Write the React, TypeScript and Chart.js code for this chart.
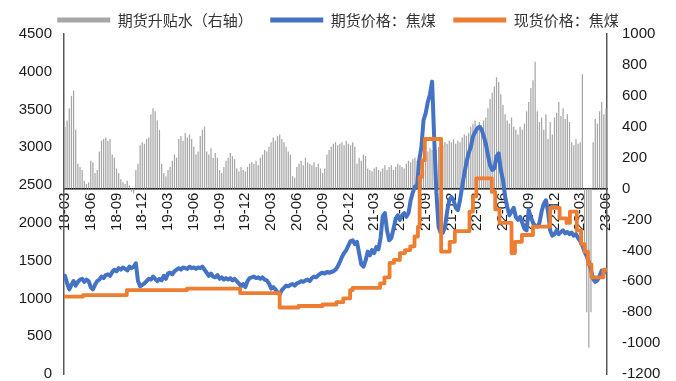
import React, { useEffect, useRef } from 'react';
import { Chart, registerables } from 'chart.js';

Chart.register(...registerables);

// Quarter labels on the x axis (one every 3 months, starting 2018-03)
const tickLabels = [
  '18-03', '18-06', '18-09', '18-12',
  '19-03', '19-06', '19-09', '19-12',
  '20-03', '20-06', '20-09', '20-12',
  '21-03', '21-06', '21-09', '21-12',
  '22-03', '22-06', '22-09', '22-12',
  '23-03', '23-06',
];

// Weekly samples (4 per month) from 2018-03: futures price, coking coal (left axis)
const futuresPrice = [
  1300, 1200, 1120, 1180, 1230, 1170, 1220, 1250, 1260, 1220, 1250, 1230, // 18-03..18-05
  1150, 1120, 1180, 1230, 1250, 1290, 1270, 1310, 1320, 1300, 1350, 1380, // 18-06..18-08
  1360, 1400, 1380, 1410, 1390, 1370, 1420, 1400, 1420, 1465, 1230, 1160, // 18-09..18-11
  1180, 1200, 1230, 1260, 1250, 1290, 1260, 1230, 1260, 1240, 1300, 1260, // 18-12..19-02
  1330, 1340, 1320, 1360, 1380, 1400, 1380, 1410, 1400, 1390, 1420, 1400, // 19-03..19-05
  1410, 1390, 1410, 1400, 1420, 1380, 1340, 1300, 1330, 1290, 1280, 1310, // 19-06..19-08
  1260, 1280, 1250, 1270, 1250, 1270, 1240, 1260, 1230, 1200, 1160, 1190, // 19-09..19-11
  1150, 1230, 1270, 1280, 1290, 1270, 1280, 1260, 1280, 1250, 1240, 1200, // 19-12..20-02
  1130, 1150, 1120, 1080, 1050, 1110, 1140, 1170, 1160, 1180, 1190, 1170, // 20-03..20-05
  1200, 1210, 1230, 1220, 1240, 1250, 1230, 1270, 1290, 1280, 1310, 1330, // 20-06..20-08
  1340, 1330, 1350, 1340, 1350, 1360, 1380, 1420, 1480, 1550, 1600, 1640, // 20-09..20-11
  1700, 1760, 1770, 1720, 1750, 1600, 1450, 1420, 1500, 1620, 1570, 1640, // 20-12..21-02
  1600, 1680, 1650, 1800, 2090, 2130, 1900, 1770, 1800, 1920, 2050, 2100, // 21-03..21-05
  2040, 2100, 2130, 2080, 2130, 2300, 2400, 2480, 2480, 2830, 3000, 3360, // 21-06..21-08
  3450, 3600, 3700, 3870, 3100, 2400, 1950, 1870, 1870, 1950, 2150, 2300, // 21-09..21-11
  2340, 2300, 2200, 2170, 2300, 2480, 2650, 2800, 2920, 3000, 3140, 3200, // 21-12..22-02
  3250, 3270, 3240, 3150, 3050, 2900, 2760, 2700, 2720, 2880, 2920, 2700, // 22-03..22-05
  2570, 2350, 2210, 2100, 2150, 2200, 2080, 2040, 2080, 2000, 1920, 1900, // 22-06..22-08
  2170, 2080, 2000, 1960, 1950, 2000, 2150, 2250, 2300, 2150, 1900, 1830, // 22-09..22-11
  1850, 1900, 1850, 1880, 1900, 1860, 1880, 1850, 1870, 1830, 1850, 1800, // 22-12..23-02
  1760, 1700, 1620, 1560, 1480, 1380, 1260, 1220, 1240, 1300, 1370, 1340, // 23-03..23-05
  1360, // 23-06
];

// Weekly samples: futures basis (right axis)
const basisValues = [
  400, 440, 520, 600, 634, 380, 160, 140, 120, 50, 30, 40, // 18-03..18-05
  180, 170, 100, 120, 240, 310, 320, 330, 310, 320, 220, 200, // 18-06..18-08
  130, 100, 60, 40, 30, 50, 20, -20, -30, 120, 160, 280, // 18-09..18-11
  300, 290, 320, 330, 480, 520, 500, 440, 380, 160, 100, 80, // 18-12..19-02
  120, 140, 180, 220, 200, 320, 340, 310, 360, 330, 350, 320, // 19-03..19-05
  270, 220, 240, 340, 380, 400, 240, 220, 260, 200, 230, 200, // 19-06..19-08
  120, 100, 140, 180, 200, 230, 210, 190, 130, 110, 140, 120, // 19-09..19-11
  110, 140, 160, 170, 160, 180, 150, 200, 220, 250, 240, 270, // 19-12..20-02
  300, 330, 310, 340, 350, 320, 300, 270, 240, 220, 80, 70, // 20-03..20-05
  140, 160, 180, 150, 200, 170, 160, 150, 170, 140, 160, 130, // 20-06..20-08
  100, 130, 220, 250, 270, 290, 300, 280, 290, 300, 280, 310, // 20-09..20-11
  290, 280, 300, 270, 160, 200, 180, 220, 210, 130, 120, 110, // 20-12..21-02
  130, 140, 120, 110, 130, 150, 120, 140, 150, 120, 140, 160, // 21-03..21-05
  150, 140, 130, 160, 180, 170, 190, 200, 180, 80, 70, 120, // 21-06..21-08
  200, 240, 260, 250, 230, 250, 270, 260, 280, 300, 290, 310, // 21-09..21-11
  300, 320, 290, 310, 300, 330, 350, 340, 360, 400, 420, 440, // 21-12..22-02
  400, 430, 410, 440, 460, 520, 580, 620, 660, 720, 690, 610, // 22-03..22-05
  540, 480, 440, 420, 460, 400, 380, 350, 400, 380, 420, 500, // 22-06..22-08
  560, 650, 700, 820, 500, 430, 460, 380, 480, 320, 430, 350, // 22-09..22-11
  460, 490, 560, 470, 520, 450, 480, 430, 300, 280, 320, 290, // 22-12..23-02
  300, 740, -400, -800, -1030, -800, 300, 450, 420, 500, 560, 480, // 23-03..23-05
  520, // 23-06
];

// Spot price, coking coal: month offset (from 2018-03) at which each price level starts
const spotMonths = [
  0, 2.1, 7.2, 14.2, 20.4, 25.0, 27.2, 30.0, 31.6, 32.4, 33.2, 33.5,
  36.7, 37.2, 37.8, 38.3, 39.0, 39.6, 40.2, 40.7, 41.1, 41.3, 41.6, 41.9,
  43.8, 44.8, 45.4, 47.1, 47.5, 47.9, 49.7, 50.1, 50.6, 52.0, 52.4, 53.2,
  54.5, 56.5, 57.6, 58.4, 58.8, 59.6, 60.1, 60.5, 60.9, 61.3, 62.7, 63.0,
];
const spotPrices = [
  1025, 1045, 1110, 1130, 1070, 880, 900, 920, 950, 1000, 1110, 1140,
  1200, 1280, 1470, 1510, 1600, 1640, 1690, 1820, 1950, 2610, 2830, 3110,
  1620, 1750, 1890, 2150, 2350, 2590, 2410, 2180, 2000, 1600, 1750, 1840,
  1950, 2200, 2060, 2000, 2150, 1900, 1720, 1620, 1450, 1280, 1380, 1380,
];

const WEEKS_PER_MONTH = 4;

export default function App() {
  const ref = useRef<HTMLCanvasElement>(null);

  useEffect(() => {
    document.body.style.margin = '0';
    const canvas = ref.current;
    if (!canvas) return;
    const tickFont = { family: '"Liberation Sans", Arial, sans-serif', size: 15, lineHeight: 0.9 };
    const tickColor = '#1a1a1a';

    const chart = new Chart(canvas, {
      type: 'bar',
      data: {
        datasets: [
          {
            type: 'bar',
            label: '期货升贴水（右轴）',
            data: basisValues.map((v, i) => ({ x: i / WEEKS_PER_MONTH, y: v })),
            yAxisID: 'y1',
            xAxisID: 'x',
            backgroundColor: '#a6a6a6',
            barPercentage: 0.58,
            categoryPercentage: 1,
            order: 3,
          } as any,
          {
            type: 'line',
            label: '期货价格：焦煤',
            data: futuresPrice.map((v, i) => ({ x: i / WEEKS_PER_MONTH, y: v })),
            yAxisID: 'y',
            xAxisID: 'x',
            borderColor: '#4472c4',
            backgroundColor: '#4472c4',
            borderWidth: 4,
            pointRadius: 0,
            borderJoinStyle: 'round',
            borderCapStyle: 'round',
            tension: 0,
            order: 2,
          } as any,
          {
            type: 'line',
            label: '现货价格：焦煤',
            data: spotMonths.map((m, i) => ({ x: m, y: spotPrices[i] })),
            yAxisID: 'y',
            xAxisID: 'x',
            borderColor: '#ed7d31',
            backgroundColor: '#ed7d31',
            borderWidth: 3.8,
            pointRadius: 0,
            stepped: 'before',
            borderJoinStyle: 'round',
            borderCapStyle: 'round',
            order: 1,
          } as any,
        ],
      },
      options: {
        responsive: false,
        animation: false,
        events: [],
        layout: { padding: { top: -5, bottom: 7, left: 0, right: 0 } },
        plugins: {
          tooltip: { enabled: false },
          legend: {
            display: true,
            position: 'top',
            maxHeight: 39,
            labels: {
              boxWidth: 53,
              boxHeight: 5,
              padding: 17.5,
              color: '#333333',
              font: { family: '"Noto Sans CJK SC", sans-serif', size: 15 },
              generateLabels: (ch: any) =>
                ch.data.datasets.map((ds: any, i: number) => {
                  const c = ds.type === 'bar' ? ds.backgroundColor : ds.borderColor;
                  return {
                    text: ds.label,
                    fillStyle: c,
                    strokeStyle: c,
                    lineWidth: 0,
                    hidden: false,
                    datasetIndex: i,
                    fontColor: '#333333',
                  };
                }),
            },
          },
        },
        scales: {
          x: {
            type: 'linear',
            min: -0.116,
            max: 63.116,
            offset: false,
            position: { y1: 0 } as any,
            grid: { display: false, drawTicks: false, offset: false },
            border: { display: true, color: '#000000', width: 1.5 },
            afterBuildTicks: (scale: any) => {
              scale.ticks = tickLabels.map((_, i) => ({ value: i * 3 }));
            },
            ticks: {
              autoSkip: false,
              minRotation: 90,
              maxRotation: 90,
              padding: 4,
              color: tickColor,
              font: { family: '"Liberation Sans", Arial, sans-serif', size: 15 },
              callback: (_v: any, i: number) => tickLabels[i],
            },
          },
          y: {
            type: 'linear',
            position: 'left',
            min: 0,
            max: 4500,
            grid: { display: false, drawTicks: true, tickLength: 12 },
            border: { display: true, color: '#595959', width: 1.5 },
            ticks: {
              stepSize: 500,
              padding: 0,
              color: tickColor,
              font: tickFont,
              callback: (v: any) => String(v),
            },
            afterFit: (s: any) => {
              s.width = 64;
            },
          },
          y1: {
            type: 'linear',
            position: 'right',
            min: -1200,
            max: 1000,
            grid: { display: false, drawTicks: true, tickLength: 15 },
            border: { display: true, color: '#595959', width: 1.5 },
            ticks: {
              stepSize: 200,
              padding: 0,
              color: tickColor,
              font: tickFont,
              callback: (v: any) => String(v),
            },
            afterFit: (s: any) => {
              s.width = 69;
            },
          },
        },
      } as any,
    });

    return () => chart.destroy();
  }, []);

  return (
    <div style={{ position: 'absolute', left: 0, top: 0, width: 676, height: 381 }}>
      <canvas ref={ref} width={676} height={381} style={{ display: 'block' }} />
    </div>
  );
}
